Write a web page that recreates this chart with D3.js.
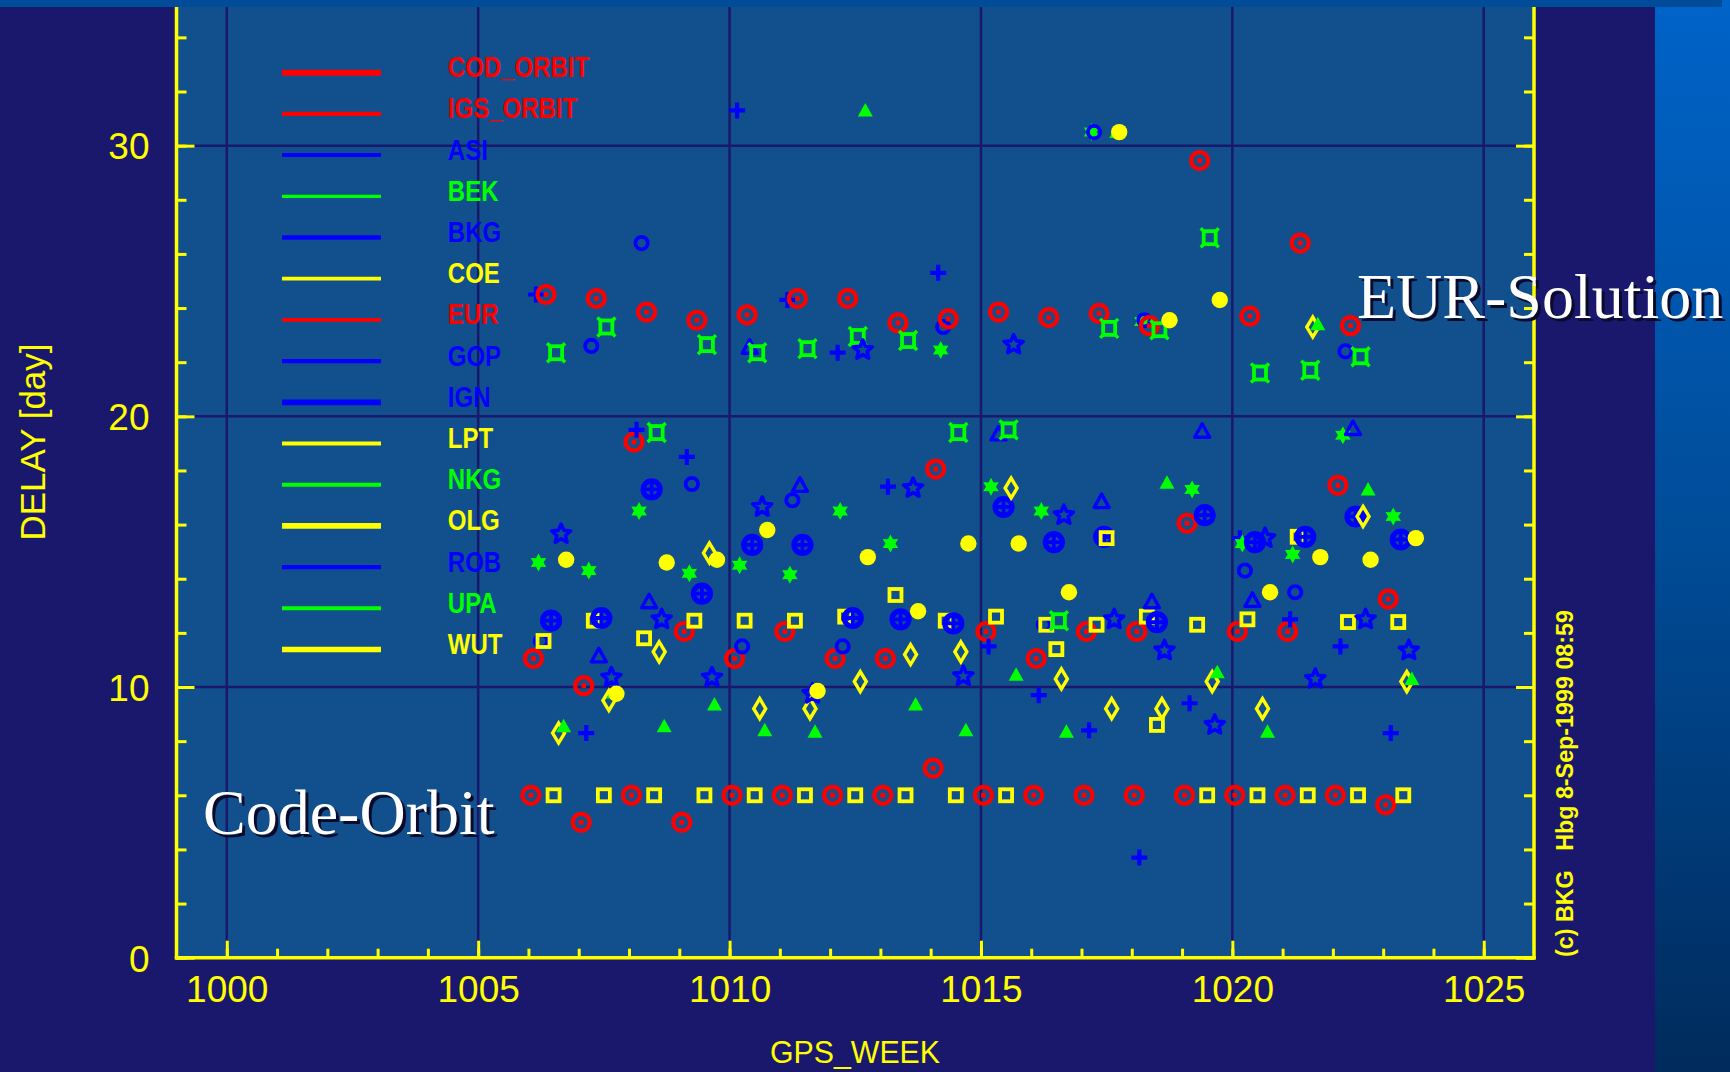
<!DOCTYPE html>
<html><head><meta charset="utf-8">
<script src="https://cdn.jsdelivr.net/npm/d3@7"></script>
<style>html,body{margin:0;padding:0;background:#1a186c;overflow:hidden}svg{display:block}</style>
</head><body>
<svg id="c" width="1730" height="1072"></svg>
<script>
// ---------- data ----------
const seriesNames = ["COD_ORBIT","IGS_ORBIT","ASI","BEK","BKG","COE","EUR","GOP","IGN","LPT","NKG","OLG","ROB","UPA","WUT"];
const xTickValues = [1000,1005,1010,1015,1020,1025];
const xTickLabels = ["1000","1005","1010","1015","1020","1025"];
const yTickValues = [0,10,20,30];
const yTickLabels = ["0","10","20","30"];

const COD_ORBIT = [[1006.05,6.0],[1007.05,5.0],[1008.05,6.0],[1009.05,5.0],[1010.05,6.0],[1011.05,6.0],[1012.05,6.0],[1013.05,6.0],[1014.05,7.0],[1015.05,6.0],[1016.05,6.0],[1017.05,6.0],[1018.05,6.0],[1019.05,6.0],[1020.05,6.0],[1021.05,6.0],[1022.05,6.0],[1023.05,5.65]];
const IGS_ORBIT = [[1006.1,11.05],[1007.1,10.05],[1008.1,19.05],[1009.1,12.05],[1010.1,11.05],[1011.1,12.05],[1012.1,11.05],[1013.1,11.05],[1014.1,18.05],[1015.1,12.05],[1016.1,11.05],[1017.1,12.05],[1018.1,12.05],[1019.1,16.05],[1020.1,12.05],[1021.1,12.05],[1022.1,17.45],[1023.1,13.25]];
const ASI = [[1006.15,24.5],[1007.15,8.3],[1008.15,19.5],[1009.15,18.5],[1010.15,31.3],[1011.15,24.3],[1012.15,22.35],[1013.15,17.4],[1014.15,25.3],[1015.15,11.5],[1016.15,9.7],[1017.15,8.4],[1018.15,3.7],[1019.15,9.4],[1020.15,15.5],[1021.15,12.5],[1022.15,11.5],[1023.15,8.3]];
const BEK = [[1006.2,14.6],[1007.2,14.3],[1008.2,16.5],[1009.2,14.2],[1010.2,14.5],[1011.2,14.15],[1012.2,16.5],[1013.2,15.3],[1014.2,22.45],[1015.2,17.4],[1016.2,16.5],[1017.2,30.5],[1018.2,23.5],[1019.2,17.3],[1020.2,15.3],[1021.2,14.9],[1022.2,19.3],[1023.2,16.3]];
const BKG = [[1006.25,11.7],[1007.25,22.6],[1008.25,26.4],[1009.25,17.5],[1010.25,11.5],[1011.25,16.9],[1012.25,11.5],[1014.25,23.3],[1016.25,12.3],[1017.25,30.5],[1018.25,23.55],[1020.25,14.3],[1021.25,13.5],[1022.25,22.4]];
const COE = [[1006.3,11.7],[1007.3,12.45],[1008.3,11.8],[1009.3,12.45],[1010.3,12.45],[1011.3,12.45],[1012.3,12.6],[1013.3,13.4],[1014.3,12.45],[1015.3,12.6],[1016.3,12.3],[1017.3,12.3],[1018.3,12.6],[1019.3,12.3],[1020.3,12.5],[1021.3,15.55],[1022.3,12.4],[1023.3,12.4]];
const EUR = [[1006.35,24.5],[1007.35,24.35],[1008.35,23.85],[1009.35,23.55],[1010.35,23.75],[1011.35,24.35],[1012.35,24.35],[1013.35,23.45],[1014.35,23.6],[1015.35,23.85],[1016.35,23.65],[1017.35,23.8],[1018.35,23.35],[1019.35,29.45],[1020.35,23.7],[1021.35,26.4],[1022.35,23.35]];
const GOP = [[1007.4,11.15],[1008.4,13.15],[1010.4,22.55],[1011.4,17.45],[1015.35,19.35],[1017.4,16.85],[1018.4,13.15],[1019.4,19.45],[1020.4,13.2],[1022.4,19.55]];
const IGN = [[1006.45,12.45],[1007.45,12.55],[1008.45,17.3],[1009.45,13.45],[1010.45,15.25],[1011.45,15.25],[1012.45,12.55],[1013.4,12.5],[1014.45,12.35],[1015.45,16.65],[1016.45,15.35],[1017.45,15.55],[1018.5,12.4],[1019.45,16.35],[1020.45,15.35],[1021.45,15.55],[1022.45,16.3],[1023.35,15.45]];
const LPT = [[1006.5,6],[1007.5,6],[1008.5,6],[1009.5,6],[1010.5,6],[1011.5,6],[1012.5,6],[1013.5,6],[1014.5,6],[1015.5,6],[1016.5,11.4],[1017.5,15.5],[1018.5,8.6],[1019.5,6],[1020.5,6],[1021.5,6],[1022.5,6],[1023.4,6]];
const NKG = [[1006.55,22.35],[1007.55,23.3],[1008.55,19.4],[1009.55,22.65],[1010.55,22.35],[1011.55,22.5],[1012.55,22.95],[1013.55,22.8],[1014.55,19.4],[1015.55,19.5],[1016.55,12.45],[1017.55,23.25],[1018.55,23.2],[1019.55,26.6],[1020.55,21.6],[1021.55,21.7],[1022.55,22.2]];
const OLG = [[1006.6,8.3],[1007.6,9.5],[1008.6,11.3],[1009.6,14.95],[1010.6,9.2],[1011.6,9.2],[1012.6,10.2],[1013.6,11.2],[1014.6,11.3],[1015.6,17.35],[1016.6,10.3],[1017.6,9.2],[1018.6,9.2],[1019.6,10.2],[1020.6,9.2],[1021.6,23.3],[1022.6,16.3],[1023.47,10.2]];
const ROB = [[1006.65,15.65],[1007.65,10.35],[1008.65,12.5],[1009.65,10.35],[1010.65,16.65],[1011.65,9.75],[1012.65,22.45],[1013.65,17.35],[1014.65,10.4],[1015.65,22.65],[1016.65,16.35],[1017.65,12.5],[1018.65,11.35],[1019.65,8.6],[1020.65,15.5],[1021.65,10.3],[1022.65,12.5],[1023.51,11.35]];
const UPA = [[1006.7,8.55],[1007.7,9.8],[1008.7,8.55],[1009.7,9.35],[1010.7,8.4],[1011.7,8.35],[1012.7,31.3],[1013.7,9.35],[1014.7,8.4],[1015.7,10.45],[1016.7,8.35],[1017.7,30.5],[1018.7,17.55],[1019.7,10.55],[1020.7,8.35],[1021.7,23.4],[1022.7,17.3],[1023.57,10.3]];
const WUT = [[1006.75,14.7],[1007.75,9.75],[1008.75,14.6],[1009.75,14.7],[1010.75,15.8],[1011.75,9.85],[1012.75,14.8],[1013.75,12.8],[1014.75,15.3],[1015.75,15.3],[1016.75,13.5],[1017.75,30.5],[1018.75,23.55],[1019.75,24.3],[1020.75,13.5],[1021.75,14.8],[1022.75,14.7],[1023.65,15.5]];

const seriesData = [COD_ORBIT,IGS_ORBIT,ASI,BEK,BKG,COE,EUR,GOP,IGN,LPT,NKG,OLG,ROB,UPA,WUT];

// ---------- styles ----------
const RED="#ff0000", BLUE="#0000ff", GREEN="#00ff00", YEL="#ffff00";
const seriesColors = [RED,RED,BLUE,GREEN,BLUE,YEL,RED,BLUE,BLUE,YEL,GREEN,YEL,BLUE,GREEN,YEL];
const seriesMarkers = ["ring","ring","plus","ast","ocircle","square","ring","otri","cplus","square","csquare","diamond","star","ftri","fcircle"];
const legendWidths = [6,4.3,4,3.3,4.3,3.7,3.7,4.3,5.7,4,4,5.7,4.3,4,5.7];
const NAVY="#1a186c", PLOTBG="#11508c";

const W=1730,H=1072;
const svg=d3.select("#c");
const defs=svg.append("defs");
const grad=defs.append("linearGradient").attr("id","rg").attr("x1",0).attr("y1",0).attr("x2",0).attr("y2",1);
grad.append("stop").attr("offset","0").attr("stop-color","#0063c8");
grad.append("stop").attr("offset","0.5").attr("stop-color","#004c98");
grad.append("stop").attr("offset","1").attr("stop-color","#002b5c");

svg.append("rect").attr("width",W).attr("height",H).attr("fill",NAVY);
svg.append("rect").attr("x",1655).attr("y",0).attr("width",W-1655).attr("height",H).attr("fill","url(#rg)");

const X0=176.5,X1=1534,Y0=957.7,YT=10.3,TOP=7;
const x=d3.scaleLinear().domain([999,1026]).range([X0,X1]);
const y=d3.scaleLinear().domain([0,35]).range([Y0,YT]);

svg.append("rect").attr("x",X0).attr("y",0).attr("width",X1-X0).attr("height",Y0-0).attr("fill",PLOTBG);
svg.append("rect").attr("x",0).attr("y",0).attr("width",1722).attr("height",TOP).attr("fill","#004c99");

// grid
const grid=svg.append("g").attr("stroke",NAVY).attr("stroke-width",2.5);
grid.selectAll("line.gx").data(xTickValues).join("line")
  .attr("x1",d=>x(d)).attr("x2",d=>x(d)).attr("y1",TOP).attr("y2",Y0);
grid.selectAll("line.gy").data(yTickValues.filter(v=>v>0)).join("line").attr("class","gy")
  .attr("x1",X0).attr("x2",X1).attr("y1",d=>y(d)).attr("y2",d=>y(d));

// axes
const tickFont="'Liberation Sans', Arial, sans-serif";
function styleAxis(g){
  g.select(".domain").remove();
  g.selectAll(".tick line").attr("stroke",YEL).attr("stroke-width",3);
}
const minorX=d3.range(1000,1026);
const gxm=svg.append("g").attr("transform",`translate(0,${Y0})`)
  .call(d3.axisBottom(x).tickValues(minorX).tickSize(-9).tickSizeOuter(0).tickFormat(""));
styleAxis(gxm);
const gx=svg.append("g").attr("transform",`translate(0,${Y0})`)
  .call(d3.axisBottom(x).tickValues(xTickValues).tickSize(-17).tickSizeOuter(0).tickFormat((d,i)=>xTickLabels[i]));
styleAxis(gx);
gx.selectAll(".tick text").attr("y",44).attr("dy",0).attr("fill",YEL)
  .style("font-family",tickFont).style("font-size","37px");

const minorY=d3.range(0,35,2);
const gym=svg.append("g").attr("transform",`translate(${X0},0)`)
  .call(d3.axisLeft(y).tickValues(minorY).tickSize(-10).tickSizeOuter(0).tickFormat(""));
styleAxis(gym);
const gy=svg.append("g").attr("transform",`translate(${X0},0)`)
  .call(d3.axisLeft(y).tickValues(yTickValues).tickSize(-18).tickSizeOuter(0).tickFormat((d,i)=>yTickLabels[i]));
styleAxis(gy);
gy.selectAll(".tick text").attr("x",-27).attr("dy","0.36em").attr("fill",YEL)
  .style("font-family",tickFont).style("font-size","37px");

const grm=svg.append("g").attr("transform",`translate(${X1},0)`)
  .call(d3.axisRight(y).tickValues(minorY).tickSize(-10).tickSizeOuter(0).tickFormat(""));
styleAxis(grm);
const gr=svg.append("g").attr("transform",`translate(${X1},0)`)
  .call(d3.axisRight(y).tickValues(yTickValues).tickSize(-18).tickSizeOuter(0).tickFormat(""));
styleAxis(gr);

// axis lines
const ax=svg.append("g").attr("stroke",YEL).attr("stroke-width",3.5);
ax.append("line").attr("x1",X0).attr("x2",X0).attr("y1",TOP).attr("y2",Y0+1.7);
ax.append("line").attr("x1",X1).attr("x2",X1).attr("y1",TOP).attr("y2",Y0+1.7);
ax.append("line").attr("x1",X0-1.7).attr("x2",X1+1.7).attr("y1",Y0).attr("y2",Y0);

// axis titles
svg.append("text").attr("x",855).attr("y",1063).attr("text-anchor","middle").attr("fill",YEL)
  .style("font-family",tickFont).style("font-size","32px").attr("textLength",170).attr("lengthAdjust","spacingAndGlyphs")
  .text("GPS_WEEK");
svg.append("text").attr("transform","translate(45,442) rotate(-90)").attr("text-anchor","middle").attr("fill",YEL)
  .style("font-family",tickFont).style("font-size","35px").attr("textLength",197).attr("lengthAdjust","spacingAndGlyphs")
  .text("DELAY [day]");

// copyright
svg.append("text").attr("transform","translate(1573,957) rotate(-90)").attr("fill",YEL)
  .style("font-family",tickFont).style("font-size","23px").style("font-weight","bold").style("white-space","pre")
  .attr("textLength",347).attr("lengthAdjust","spacingAndGlyphs")
  .text("(c) BKG   Hbg 8-Sep-1999 08:59");

// markers
function star(n,ro,ri){
  const p=[];
  for(let i=0;i<2*n;i++){const r=i%2?ri:ro;const a=Math.PI*i/n-Math.PI/2;p.push([r*Math.cos(a),r*Math.sin(a)]);}
  return "M"+p.map(q=>q[0].toFixed(2)+","+q[1].toFixed(2)).join("L")+"Z";
}
function marker(g,type,c){
  switch(type){
    case "ring":
      g.append("circle").attr("r",8.5).attr("fill","none").attr("stroke",c).attr("stroke-width",4.2);
      g.append("rect").attr("x",-2.4).attr("y",-2.4).attr("width",4.8).attr("height",4.8).attr("fill",c);break;
    case "plus":
      g.append("path").attr("d","M-8,0H8M0,-8V8").attr("stroke",c).attr("stroke-width",4.2);break;
    case "ast":
      g.append("path").attr("d",star(6,9,5)).attr("fill",c);break;
    case "ocircle":
      g.append("circle").attr("r",6.2).attr("fill","none").attr("stroke",c).attr("stroke-width",3.8);break;
    case "square":
      g.append("rect").attr("x",-6).attr("y",-6).attr("width",12).attr("height",12).attr("fill","none").attr("stroke",c).attr("stroke-width",3.8);break;
    case "otri":
      g.append("path").attr("d","M0,-7.5L7.5,6L-7.5,6Z").attr("fill","none").attr("stroke",c).attr("stroke-width",3.4).attr("stroke-linejoin","round");break;
    case "cplus":
      g.append("circle").attr("r",8.5).attr("fill","none").attr("stroke",c).attr("stroke-width",5.2);
      g.append("path").attr("d","M-9,0H9M0,-9V9").attr("stroke",c).attr("stroke-width",3.8);break;
    case "csquare":
      g.append("rect").attr("x",-6).attr("y",-6.5).attr("width",12).attr("height",13).attr("fill","none").attr("stroke",c).attr("stroke-width",3.8);
      g.append("path").attr("d","M-6,-6.5l-3,-3M6,-6.5l3,-3M6,6.5l3,3M-6,6.5l-3,3").attr("stroke",c).attr("stroke-width",3.4);break;
    case "diamond":
      g.append("path").attr("d","M0,-10L6,0L0,10L-6,0Z").attr("fill","none").attr("stroke",c).attr("stroke-width",3.4);break;
    case "star":
      g.append("path").attr("d",star(5,10,4.6)).attr("fill","none").attr("stroke",c).attr("stroke-width",3.6).attr("stroke-linejoin","round");break;
    case "ftri":
      g.append("path").attr("d","M0,-7.5L7.5,6L-7.5,6Z").attr("fill",c);break;
    case "fcircle":
      g.append("circle").attr("r",8.2).attr("fill",c);break;
  }
}

// legend
const leg=svg.append("g");
seriesNames.forEach((nm,i)=>{
  const ly=72.7+i*41.2;
  leg.append("line").attr("x1",282).attr("x2",381).attr("y1",ly).attr("y2",ly)
    .attr("stroke",seriesColors[i]).attr("stroke-width",legendWidths[i]);
  leg.append("text").attr("transform",`translate(447.8,${ly+4.5}) scale(0.8,1)`).attr("fill",seriesColors[i])
    .style("font-family",tickFont).style("font-weight","bold").style("font-size","30px").text(nm);
});

// points
const pts=svg.append("g");
seriesData.forEach((arr,i)=>{
  arr.forEach(d=>{
    const g=pts.append("g").attr("transform",`translate(${x(d[0])},${y(d[1])})`);
    marker(g,seriesMarkers[i],seriesColors[i]);
  });
});

// annotations
const serif="'Liberation Serif','Times New Roman',serif";
function shadowText(t,xx,yy){
  svg.append("text").attr("x",xx+3).attr("y",yy+3).attr("fill","#0a0a2a")
    .style("font-family",serif).style("font-size","64px").text(t);
  svg.append("text").attr("x",xx).attr("y",yy).attr("fill","#ffffff")
    .style("font-family",serif).style("font-size","64px").text(t);
}
shadowText("EUR-Solution",1357,318);
shadowText("Code-Orbit",203,834);
</script>
</body></html>
